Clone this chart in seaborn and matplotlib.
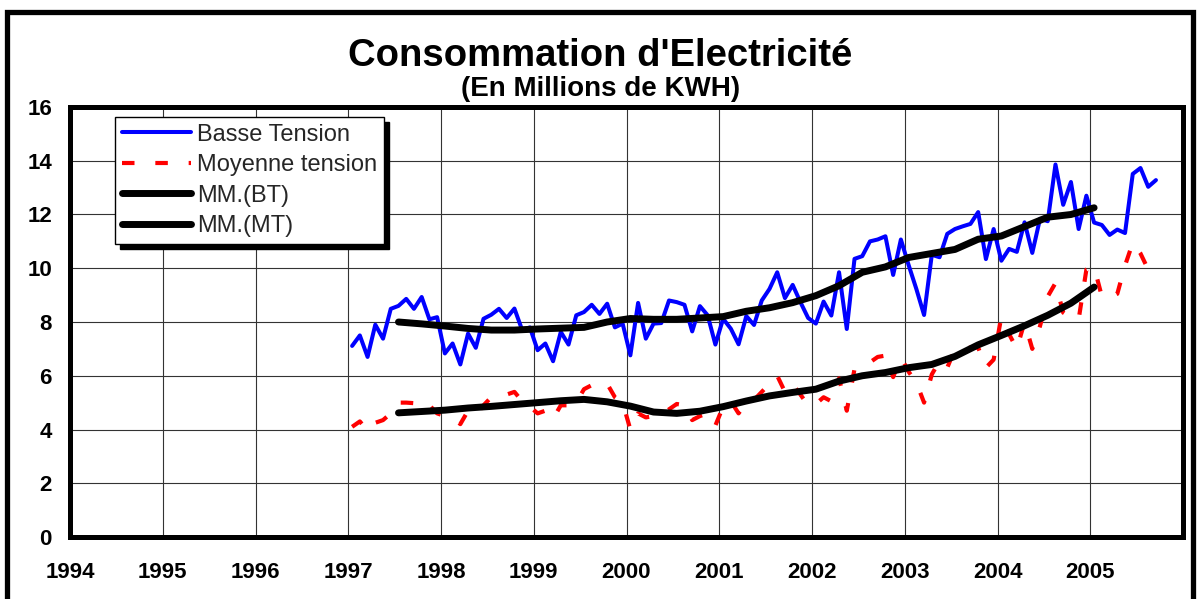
import numpy as np
import pandas as pd
import matplotlib
matplotlib.use("Agg")
import matplotlib.pyplot as plt
import seaborn as sns
from matplotlib.patches import Rectangle

# ---------------- data ----------------
start_year = 1997          # first monthly value: January 1997
bt_values = [  # Basse Tension, monthly, Jan 1997 .. Sep 2005
    7.11, 7.50, 6.70, 7.90, 7.38, 8.49, 8.60, 8.86, 8.49, 8.93, 8.10, 8.18,
    6.83, 7.20, 6.42, 7.57, 7.04, 8.12, 8.27, 8.49, 8.15, 8.50, 7.70, 7.80,
    6.95, 7.20, 6.54, 7.63, 7.16, 8.25, 8.37, 8.64, 8.30, 8.68, 7.80, 7.94,
    6.76, 8.71, 7.38, 7.94, 7.96, 8.80, 8.74, 8.64, 7.65, 8.59, 8.25, 7.16,
    8.12, 7.75, 7.17, 8.22, 7.89, 8.80, 9.23, 9.85, 8.89, 9.38, 8.74, 8.15,
    7.94, 8.76, 8.24, 9.85, 7.74, 10.35, 10.45, 11.00, 11.07, 11.19, 9.75, 11.07,
    10.12, 9.23, 8.26, 10.50, 10.41, 11.28, 11.46, 11.56, 11.65, 12.09, 10.34, 11.46,
    10.28, 10.72, 10.61, 11.71, 10.57, 11.84, 11.75, 13.86, 12.36, 13.21, 11.46, 12.70,
    11.70, 11.61, 11.24, 11.44, 11.31, 13.51, 13.73, 13.03, 13.28,
]
mt_values = [  # Moyenne tension, monthly, Jan 1997 .. Sep 2005
    4.10, 4.30, 3.95, 4.25, 4.35, 4.60, 5.00, 5.00, 4.98, 5.10, 4.90, 4.60,
    4.50, 4.45, 4.20, 4.70, 4.55, 4.90, 5.20, 5.30, 5.30, 5.40, 5.05, 4.85,
    4.60, 4.70, 4.40, 4.90, 4.90, 5.00, 5.50, 5.65, 5.60, 5.70, 5.20, 5.00,
    4.00, 4.60, 4.45, 4.50, 4.55, 4.75, 4.95, 4.90, 4.35, 4.50, 4.60, 4.15,
    4.85, 5.05, 4.60, 5.00, 5.10, 5.40, 5.70, 6.00, 5.40, 5.70, 5.30, 4.90,
    4.95, 5.20, 5.05, 5.90, 4.70, 6.25, 6.35, 6.50, 6.70, 6.75, 5.95, 6.70,
    6.15, 5.75, 5.00, 6.05, 6.55, 6.30, 7.00, 7.00, 7.05, 7.05, 6.30, 6.60,
    8.20, 7.55, 7.00, 8.00, 7.00, 7.85, 8.95, 9.45, 8.35, 8.15, 8.10, 9.95,
    10.05, 8.95, 8.90, 9.05, 10.10, 10.95, 10.55, 9.95, 10.30,
]
ma_start_year, ma_start_month = 1997, 6   # moving averages start July 1997
ma_step_months = 3                        # values read every quarter
ma_bt = [8.00, 7.93, 7.85, 7.76, 7.70, 7.70, 7.74, 7.77, 7.80, 8.00, 8.13,
         8.10, 8.10, 8.15, 8.20, 8.40, 8.53, 8.72, 8.98, 9.35, 9.85, 10.05,
         10.40, 10.55, 10.70, 11.08, 11.20, 11.55, 11.90, 12.00, 12.25]
ma_mt = [4.62, 4.67, 4.72, 4.80, 4.86, 4.93, 5.00, 5.07, 5.12, 5.03, 4.87,
         4.65, 4.60, 4.68, 4.85, 5.06, 5.25, 5.38, 5.50, 5.80, 6.00, 6.12,
         6.30, 6.42, 6.72, 7.15, 7.50, 7.86, 8.25, 8.70, 9.30]
year_ticks = list(range(1994, 2006))
y_ticks = list(range(0, 17, 2))
labels = ["Basse Tension", "Moyenne tension", "MM.(BT)", "MM.(MT)"]
title = "Consommation d'Electricité"
subtitle = "(En Millions de KWH)"

# ---------------- frames ----------------
x_month = [start_year + (i + 0.5) / 12 for i in range(len(bt_values))]
x_ma = [ma_start_year + (ma_start_month + i * ma_step_months + 0.5) / 12
        for i in range(len(ma_bt))]
df_bt = pd.DataFrame({"x": x_month, "y": bt_values})
df_mt = pd.DataFrame({"x": x_month[:len(mt_values)], "y": mt_values})
df_mabt = pd.DataFrame({"x": x_ma, "y": ma_bt})
df_mamt = pd.DataFrame({"x": x_ma, "y": ma_mt})

sns.set_theme(style="white")
plt.rcParams["font.family"] = ["Liberation Sans", "DejaVu Sans"]

W, H = 1201, 599
fig = plt.figure(figsize=(W / 100, H / 100), dpi=100)
ax = fig.add_axes([70 / W, 62 / H, 1113 / W, 430 / H])

DASH = (0, (3.0, 5.0))
sns.lineplot(data=df_bt, x="x", y="y", ax=ax, color="#0000FF", lw=2.9,
             label=labels[0], zorder=3)
sns.lineplot(data=df_mt, x="x", y="y", ax=ax, color="#FF0000", lw=3.0,
             label=labels[1], zorder=3)
ax.lines[-1].set_linestyle(DASH)
sns.lineplot(data=df_mabt, x="x", y="y", ax=ax, color="black", lw=5.0,
             label=labels[2], zorder=4)
sns.lineplot(data=df_mamt, x="x", y="y", ax=ax, color="black", lw=5.0,
             label=labels[3], zorder=4)
for ln in ax.lines[-2:]:
    ln.set_solid_capstyle("round")
    ln.set_solid_joinstyle("round")

ax.set_xlim(1994, 2006)
ax.set_ylim(0, 16)
ax.set_xticks(year_ticks)
ax.set_xticklabels([str(y) for y in year_ticks])
ax.set_yticks(y_ticks)
ax.set_xlabel("")
ax.set_ylabel("")
ax.grid(True, color="#333333", lw=0.8, zorder=0)
ax.set_axisbelow(True)
for sp in ax.spines.values():
    sp.set_visible(True)
    sp.set_color("black")
    sp.set_linewidth(3.6)
ax.tick_params(axis="both", direction="in", length=4, width=3.2,
               color="black", labelsize=16, labelcolor="black")
ax.tick_params(axis="x", pad=18)
ax.tick_params(axis="y", pad=13)
for lab in ax.get_xticklabels() + ax.get_yticklabels():
    lab.set_fontweight("bold")
ax.tick_params(top=False, right=False)

leg = ax.legend(loc="upper left", bbox_to_anchor=(45 / 1113, (537 - 117) / 430),
                borderaxespad=0, frameon=True, fancybox=False,
                edgecolor="black", framealpha=1, fontsize=17,
                handlelength=2.95, handletextpad=0.25, labelspacing=0.36,
                borderpad=0.28)
leg.get_frame().set_linewidth(1.0)
for h in leg.get_lines():
    h.set_solid_capstyle("round")
leg.get_lines()[1].set_linestyle(DASH)

fig.text(0.5, (H - 66) / H, title, ha="center", va="baseline",
         fontsize=27.5, fontweight="bold", color="black")
fig.text(0.5, (H - 96) / H, subtitle, ha="center", va="baseline",
         fontsize=20, fontweight="bold", color="black")

# outer frame
fig.add_artist(Rectangle((6.5 / W, -0.05), (1193 - 6.5) / W, 1.05 - 12 / H,
                         transform=fig.transFigure, fill=False,
                         edgecolor="black", lw=3.8))

# legend shadow
fig.canvas.draw()
bb = leg.get_window_extent()
inv = ax.transAxes.inverted()
(x0, y0) = inv.transform((bb.x0 + 5, bb.y0 - 5))
(x1, y1) = inv.transform((bb.x1 + 5, bb.y1 - 5))
ax.add_patch(Rectangle((x0, y0), x1 - x0, y1 - y0, transform=ax.transAxes,
                       facecolor="black", edgecolor="black", zorder=4.9,
                       clip_on=False))

fig.savefig("out.png", dpi=100)
